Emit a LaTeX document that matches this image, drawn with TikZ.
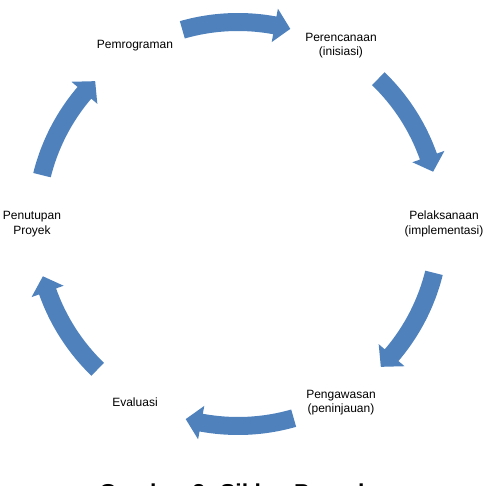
\documentclass[tikz,border=0pt]{standalone}
\usepackage{fontspec}
\setmainfont{Liberation Sans}
\usetikzlibrary{positioning}
\definecolor{arrowblue}{RGB}{79,129,189}
\tikzset{
  phase/.style     ={align=center, inner sep=0pt,
                     font=\fontsize{12}{14.5}\selectfont},
  cycarrow/.style  ={fill=arrowblue, draw=none},
  figcaption/.style={anchor=base, font=\fontsize{23}{27}\selectfont\bfseries},
}
% curved block arrow around the hub, centred on angle #1, running clockwise
\newcommand{\cyclearrow}[1]{%
  \pgfmathsetmacro{\ta}{#1+16}%
  \pgfmathsetmacro{\tb}{#1-15}%
  \pgfmathsetmacro{\tc}{#1-10.5}%
  \fill[cycarrow] (\ta:211pt) arc[start angle=\ta, end angle=\tc, radius=211pt]
    -- (\tc:219pt) -- (\tb:202pt) -- (\tc:185pt) -- (\tc:193pt)
    arc[start angle=\tc, end angle=\ta, radius=193pt] -- cycle;}

\begin{document}
\begin{tikzpicture}[x=1pt, y=1pt]
\useasboundingbox (-238,-262) rectangle (252,224);

% --- hub ---
\coordinate (hub) at (0,0);

% --- phases ---
\node[phase] (Lprog)  at (120:206) {Pemrograman};
\node[phase] (Lplan)  at ( 60:206) {Perencanaan\\(inisiasi)};
\node[phase] (Limpl)  at (  0:206) {Pelaksanaan\\(implementasi)};
\node[phase] (Lwatch) at (-60:206) {Pengawasan\\(peninjauan)};
\node[phase] (Leval)  at (-120:206) {Evaluasi};
\node[phase] (Lclose) at (180:206) {Penutupan\\Proyek};

% --- cycle arrows ---
\cyclearrow{90}
\cyclearrow{30}
\cyclearrow{-30}
\cyclearrow{-90}
\cyclearrow{-150}
\cyclearrow{150}

% --- caption ---
\node[figcaption] (cap) at (-3,-276.5) {Gambar 2. Siklus Proyek};

\end{tikzpicture}
\end{document}
